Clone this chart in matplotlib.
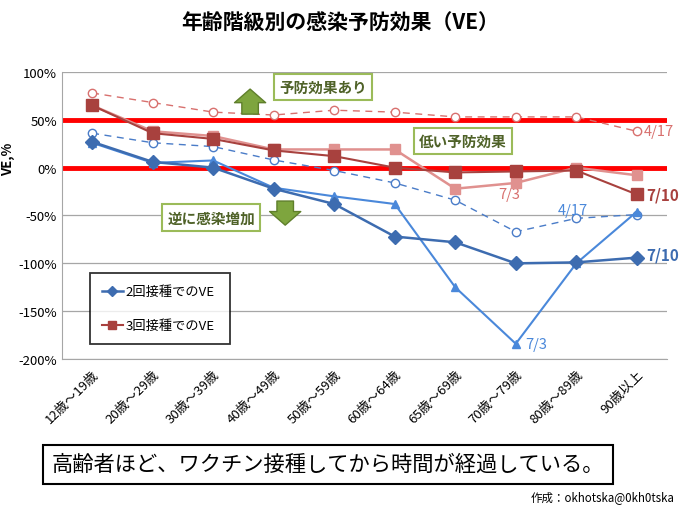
import matplotlib
matplotlib.use("Agg")
import matplotlib.pyplot as plt

plt.rcParams['font.family'] = ['Noto Sans CJK JP', 'DejaVu Sans']

categories = ["12歳～19歳", "20歳～29歳", "30歳～39歳", "40歳～49歳", "50歳～59歳",
              "60歳～64歳", "65歳～69歳", "70歳～79歳", "80歳～89歳", "90歳以上"]
dose2_0710 = [27, 6, 0, -22, -38, -72, -78, -100, -99, -94]
dose2_0703 = [26, 5, 7.5, -21, -30, -38, -125, -184, -100, -46]
dose2_0417 = [36, 26, 22, 8, -3, -16, -34, -67, -53, -49]
dose3_0710 = [65, 36, 30, 18, 12, 0, -5, -4, -3, -28]
dose3_0703 = [65, 38, 33, 19, 19, 19, -22, -16, 0, -8]
dose3_0417 = [78, 68, 58, 55, 60, 58, 53, 53, 53, 38]
yticks = [100, 50, 0, -50, -100, -150, -200]

fig = plt.figure(figsize=(6.8, 5.1), dpi=100)
ax = fig.add_axes([0.091, 0.294, 0.890, 0.563])
x = list(range(len(categories)))

ax.set_xlim(-0.5, 9.5)
ax.set_ylim(-200, 100)
ax.set_yticks(yticks)
ax.set_yticklabels([f"{v}%" for v in yticks], fontsize=9.5)
for v in yticks:
    ax.axhline(v, color='#A6A6A6', lw=0.9, zorder=0)
for s in ['top', 'right']:
    ax.spines[s].set_visible(False)
ax.spines['left'].set_color('#A6A6A6')
ax.spines['bottom'].set_color('#A6A6A6')
ax.tick_params(axis='both', length=0)
ax.tick_params(axis='x', pad=6)
ax.set_xticks(x)
ax.set_xticklabels(categories, rotation=45, ha='right', rotation_mode='anchor', fontsize=9.5)

# red reference lines
ax.axhline(50, color='#FF0000', lw=3.5, zorder=2)
ax.axhline(0, color='#FF0000', lw=3.5, zorder=2)

c_db = '#3D6CB0'
c_lb = '#4A88DA'
c_bd = '#4A7CC8'
c_dr = '#A8413E'
c_lr = '#E0918F'
c_rd = '#D8706E'

ax.plot(x, dose3_0417, color=c_rd, lw=1, ls=(0, (5, 4)), marker='o', ms=6,
        mfc='white', mec=c_rd, zorder=3)
ax.plot(x, dose2_0417, color=c_bd, lw=1, ls=(0, (5, 4)), marker='o', ms=6,
        mfc='white', mec=c_bd, zorder=3)
ax.plot(x, dose3_0703, color=c_lr, lw=1.8, marker='s', ms=7, zorder=4)
ax.plot(x, dose2_0703, color=c_lb, lw=1.5, marker='^', ms=6, zorder=4)
l2, = ax.plot(x, dose2_0710, color=c_db, lw=1.8, marker='D', ms=7, zorder=5)
l3, = ax.plot(x, dose3_0710, color=c_dr, lw=1.5, marker='s', ms=8, zorder=5)

# series labels
ax.text(9.12, 38, "4/17", color=c_rd, fontsize=10.5, va='center', ha='left')
ax.text(9.15, -28, "7/10", color=c_dr, fontsize=11, fontweight='bold', va='center', ha='left')
ax.text(6.71, -28, "7/3", color=c_rd, fontsize=10.5, va='center', ha='left')
ax.text(7.69, -44, "4/17", color=c_lb, fontsize=10.5, va='center', ha='left')
ax.text(9.15, -91, "7/10", color=c_db, fontsize=11, fontweight='bold', va='center', ha='left')
ax.text(7.15, -184, "7/3", color=c_lb, fontsize=10.5, va='center', ha='left')

# annotation boxes
box = dict(boxstyle='square,pad=0.35', fc='white', ec='#9BBB59', lw=1.5)
tc = '#4F6228'
ax.text(3.82, 84, "予防効果あり", color=tc, fontsize=10.5, fontweight='bold',
        ha='center', va='center', bbox=box, zorder=6)
ax.text(6.13, 28, "低い予防効果", color=tc, fontsize=10.5, fontweight='bold',
        ha='center', va='center', bbox=box, zorder=6)
ax.text(1.97, -52, "逆に感染増加", color=tc, fontsize=10.5, fontweight='bold',
        ha='center', va='center', bbox=box, zorder=6)

arrow_props = dict(arrowstyle='simple,head_length=0.7,head_width=1.6,tail_width=0.85',
                   fc='#7EA53E', ec='#5F7F2B', lw=1, mutation_scale=14)
ax.annotate('', xy=(2.61, 85), xytext=(2.61, 53), arrowprops=arrow_props, zorder=6)
ax.annotate('', xy=(3.19, -63), xytext=(3.19, -32), arrowprops=arrow_props, zorder=6)

leg = ax.legend([l2, l3], ["2回接種でのVE", "3回接種でのVE"], loc='lower left',
                bbox_to_anchor=(0.046, 0.052, 0.232, 0.244), mode='expand',
                fontsize=9.5, frameon=True, fancybox=False, edgecolor='black',
                labelspacing=1.6, handlelength=1.6, handletextpad=0.2, borderpad=0.9,
                markerscale=0.8, borderaxespad=0)
leg.get_frame().set_linewidth(1.3)
leg.set_zorder(7)

ax.set_ylabel("VE,%", fontsize=9.5, fontweight='bold', labelpad=2)
ax.yaxis.set_label_coords(-0.078, 0.70)

fig.text(0.5, 0.955, "年齢階級別の感染予防効果（VE）", fontsize=15, fontweight='bold',
         ha='center', va='center')

fig.text(0.482, 0.088, "高齢者ほど、ワクチン接種してから時間が経過している。", fontsize=15.3,
         ha='center', va='center',
         bbox=dict(boxstyle='square,pad=0.4', fc='white', ec='black', lw=1.5))
fig.text(0.992, 0.025, "作成：okhotska@0kh0tska", fontsize=8.3, ha='right', va='center')

fig.savefig("out.png", dpi=100)
